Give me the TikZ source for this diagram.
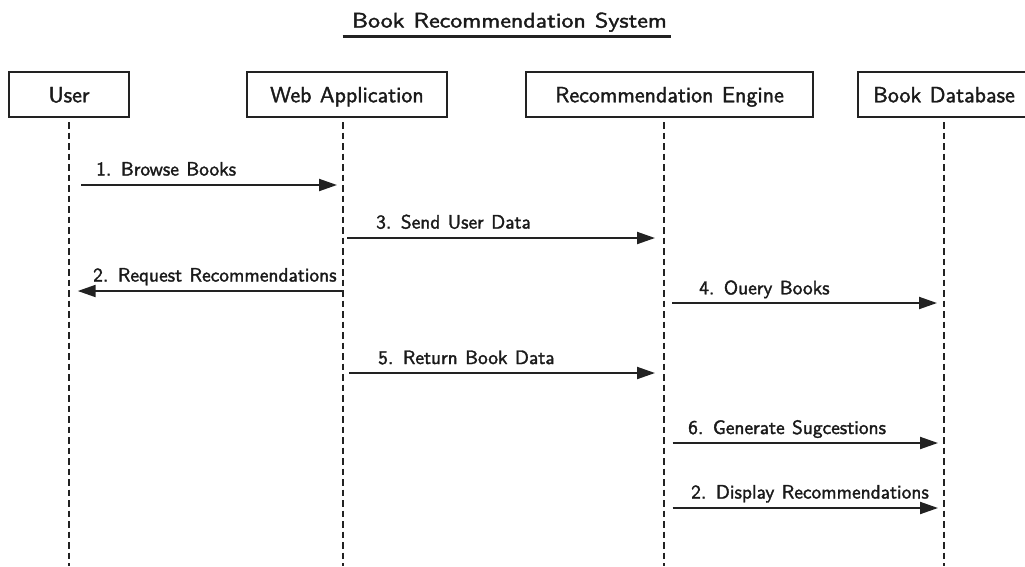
\documentclass[tikz,border=0pt]{standalone}
\usepackage{fontspec}
\usepackage{graphicx}
\setsansfont{lmsans10-regular.otf}[WordSpace=1.15, FakeBold=1.7]
\renewcommand{\familydefault}{\sfdefault}
\usetikzlibrary{arrows.meta}
\definecolor{ink}{HTML}{1A1A1A}
\definecolor{rule}{HTML}{222222}
\begin{document}
\begin{tikzpicture}[x=1pt,y=-1pt,
  actor/.style={draw=rule, line width=1.5pt, fill=white, minimum height=45pt,
    inner sep=0pt, text height=15.5pt, text depth=0pt,
    font=\sffamily\fontsize{22}{26}\selectfont, text=ink},
  lifeline/.style={draw=rule, line width=2pt, dash pattern=on 6.5pt off 4pt},
  msg/.style={draw=rule, line width=2pt, -{Triangle[length=18pt,width=12pt]}},
  msglabel/.style={font=\sffamily\fontsize{19.4}{23}\selectfont, anchor=base west,
    inner sep=0pt, text=ink}]
\useasboundingbox (0,0) rectangle (1025,566);
\fill[white] (0,0) rectangle (1025,566);

% title with underline
\node[anchor=base, inner sep=0pt, text=ink, font=\sffamily\fontsize{21}{25}\selectfont]
  (title) at (509.5,27.5) {\scalebox{1.14}[1]{Book Recommendation System}};
\coordinate (ulA) at (342.7,36.5);
\coordinate (ulB) at (670.7,36.5);
\draw[rule, line width=2.2pt] (ulA) -- (ulB);

% participants
\node[actor, minimum width=120pt] (user) at (69,94.5) {User};
\node[actor, minimum width=200pt] (web) at (347,94.5) {Web Application};
\node[actor, minimum width=287pt] (engine) at (669.5,94.5) {Recommendation Engine};
\node[actor, minimum width=172pt] (db) at (944,94.5) {Book Database};

% lifelines
\coordinate (uT) at (69,122);  \coordinate (uB) at (69,566);
\coordinate (wT) at (343,122); \coordinate (wB) at (343,566);
\coordinate (eT) at (664,122); \coordinate (eB) at (664,566);
\coordinate (dT) at (944,122); \coordinate (dB) at (944,566);
\draw[lifeline] (uT) -- (uB);
\draw[lifeline] (wT) -- (wB);
\draw[lifeline] (eT) -- (eB);
\draw[lifeline] (dT) -- (dB);

% message end points
\coordinate (m1a) at (81,185);    \coordinate (m1b) at (337,185);
\coordinate (m3a) at (347,238);   \coordinate (m3b) at (655,238);
\coordinate (m2a) at (343,291);   \coordinate (m2b) at (77.7,291);
\coordinate (m4a) at (672,303);   \coordinate (m4b) at (937,303);
\coordinate (m5a) at (349.3,373); \coordinate (m5b) at (655,373);
\coordinate (m6a) at (672.7,443); \coordinate (m6b) at (938,443);
\coordinate (m7a) at (672.7,508); \coordinate (m7b) at (938,508);

% messages
\draw[msg] (m1a) -- (m1b);
\draw[msg] (m3a) -- (m3b);
\draw[msg] (m2a) -- (m2b);
\draw[msg] (m4a) -- (m4b);
\draw[msg] (m5a) -- (m5b);
\draw[msg] (m6a) -- (m6b);
\draw[msg] (m7a) -- (m7b);

% message labels
\node[msglabel] (l1) at (96,175.5) {1. Browse Books};
\node[msglabel] (l3) at (376,228.5) {3. Send User Data};
\node[msglabel] (l2) at (93,281.5) {2. Request Recommendations};
\node[msglabel] (l4) at (699,294.3) {4. Ouery Books};
\node[msglabel] (l5) at (378,364) {5. Return Book Data};
\node[msglabel] (l6) at (688,434) {6. Generate Sugcestions};
\node[msglabel] (l7) at (691,498.5) {2. Display Recommendations};
\end{tikzpicture}
\end{document}
